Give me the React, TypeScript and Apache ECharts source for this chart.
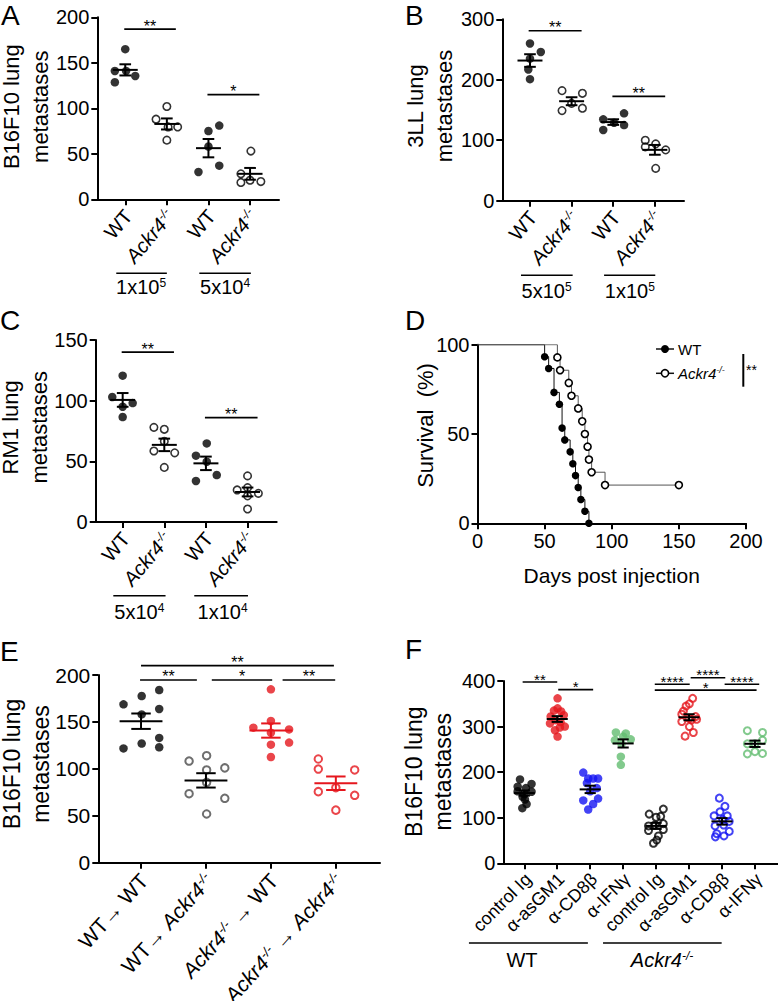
import React, { useEffect, useRef } from 'react';
import * as echarts from 'echarts';

const FONT = '"Liberation Sans", Arial, Helvetica, sans-serif';
const BLACK = '#000000';
const GREY = '#4a4a4a';
const RED = '#e5161d';
const BLUE = '#1414f2';
const GREEN = '#63bd70';

// ---------- Panel A ----------
const A_LABELS = ['WT', 'KO', 'WT', 'KO'];
const A_VALUES = [
  [165, 141, 141, 135.5, 128.6],
  [102, 88, 79.5, 79.5, 65],
  [75, 81, 58, 30, 37],
  [53, 28, 18.5, 21, 19.5],
];
const A_JITTER = [
  [0, -0.25, 0.02, 0.24, -0.25],
  [0, -0.26, 0.03, 0.26, 0],
  [0, 0.26, 0, -0.24, 0.26],
  [0.02, -0.22, -0.22, 0, 0.26],
];
const A_SIG = [[0.976, 2.216, 187, '**'], [2.976, 4.224, 115, '*']];
const A_DOSES = [[0.784, 2.0, 1.38, '1x10{p|5}'], [2.78, 4.02, 3.4, '5x10{p|4}']];

// ---------- Panel B ----------
const B_LABELS = ['WT', 'KO', 'WT', 'KO'];
const B_VALUES = [
  [260, 246, 235, 217, 201],
  [182, 177.6, 161, 153, 149],
  [134.6, 129, 144.5, 125, 117],
  [100, 89, 94, 84, 53.5],
];
const B_JITTER = [
  [0, 0.26, 0, -0.04, 0],
  [-0.23, 0.26, 0, 0.26, -0.23],
  [-0.24, 0.02, 0.26, 0.26, -0.24],
  [-0.23, -0.23, 0.02, 0.26, 0.02],
];
const B_SIG = [[0.968, 2.24, 281, '**'], [2.98, 4.248, 172.6, '**']];
const B_DOSES = [[0.784, 2.025, 1.4, '5x10{p|5}'], [2.78, 4.01, 3.4, '1x10{p|5}']];

// ---------- Panel C ----------
const C_LABELS = ['WT', 'KO', 'WT', 'KO'];
const C_VALUES = [
  [120.6, 103, 95, 98, 86.5],
  [78, 76.4, 66.5, 58.5, 57, 45],
  [64.8, 54.7, 49.7, 38.7, 33.8],
  [38, 26.4, 28.3, 23.6, 21.5, 10.7],
];
const C_JITTER = [
  [0, -0.25, 0, 0.24, 0],
  [-0.25, 0, 0, -0.25, 0.25, 0],
  [0.02, -0.24, 0.02, 0.26, -0.24],
  [0, -0.25, 0, 0.26, 0, 0],
];
const C_SIG = [[0.976, 2.232, 140, '**'], [2.976, 4.24, 86, '**']];
const C_DOSES = [[0.775, 2.03, 1.4, '5x10{p|4}'], [2.72, 4.01, 3.4, '1x10{p|4}']];

// ---------- Panel D (survival) ----------
const D_WT = [
  [0, 100], [50, 93.3], [53, 86.7], [57, 73.3], [61, 66.7], [63, 53.3], [65, 46.7],
  [69, 40], [71, 33.3], [73, 26.7], [75, 20], [77, 13.3], [80, 6.7], [83, 0],
];
const D_KO = [
  [0, 100], [59.5, 92.9], [61.5, 85.7], [68, 78.6], [70, 71.4], [75, 64.3], [78, 57.1],
  [80, 50], [82, 42.9], [83, 35.7], [85, 28.6], [95, 21.4], [150, 21.4],
];

// ---------- Panel E ----------
const E_LABELS = ['WT→ WT', 'WT→ {i|Ackr4}{s|-/-}', '{i|Ackr4}{s|-/-} → WT', '{i|Ackr4}{s|-/-} → {i|Ackr4}{s|-/-}'];
const E_VALUES = [
  [168.7, 177.6, 184, 163.8, 158, 133, 121.8, 127, 123],
  [108.3, 114, 98.8, 101, 85.6, 73.5, 68.6, 51.9],
  [184.7, 151, 143.9, 142, 138.5, 128, 125.8, 112.6],
  [110.5, 99.8, 98.8, 80, 75.7, 71.8, 56],
];
const E_JITTER = [
  [-0.27, 0.01, 0.28, 0.28, 0.01, 0.28, -0.27, 0.01, 0.28],
  [-0.26, 0.01, 0.01, 0.29, 0.01, -0.26, 0.29, 0.01],
  [0, 0, -0.27, 0.28, 0, 0.28, 0, 0],
  [-0.27, -0.27, 0.29, 0, -0.27, 0.29, 0],
];
const E_SIG = [[1.0, 3.97, 210, '**'], [0.985, 1.86, 194.7, '**'], [2.09, 3.02, 194.7, '*'], [3.18, 3.99, 194.7, '**']];

// ---------- Panel F ----------
const F_LABELS = ['control Ig', 'α-asGM1', 'α-CD8β', 'α-IFNγ', 'control Ig', 'α-asGM1', 'α-CD8β', 'α-IFNγ'];
const F_VALUES = [
  [184, 174, 168, 165, 158, 157, 152, 146, 140, 130, 121],
  [362, 340, 335, 333, 322, 325, 314, 310, 307, 300, 292, 298, 278],
  [199, 186, 186, 186, 176, 165, 158, 142, 138, 130, 118],
  [287, 285, 270, 272, 278, 262, 234, 216],
  [119, 108, 101, 103, 82, 84, 87, 74, 72, 60, 51, 44],
  [362, 350, 345, 334, 327, 322, 318, 316, 311, 315, 300, 287, 279],
  [143, 125, 113, 104, 104, 96, 92, 82, 84, 70, 65, 60, 58],
  [291, 287, 270, 262, 262, 240, 245, 241],
];
const F_JITTER = [
  [-0.13, 0.22, -0.2, 0.05, -0.2, 0.22, 0.0, -0.05, 0.02, 0.07, -0.06],
  [0.01, 0.01, -0.1, 0.12, -0.2, 0.2, -0.05, 0.1, -0.22, 0.23, -0.07, 0.08, 0.01],
  [-0.21, -0.06, 0.09, 0.24, -0.1, 0.2, 0.0, 0.24, -0.21, 0.09, -0.06],
  [-0.22, 0.08, -0.25, 0.23, 0.0, -0.05, -0.07, -0.07],
  [0.22, -0.21, 0.0, 0.14, -0.23, -0.03, 0.22, 0.22, -0.23, 0.07, 0.02, -0.08],
  [0.11, 0.01, -0.09, -0.17, -0.22, 0.2, 0.0, 0.23, -0.22, 0.08, 0.01, 0.13, -0.12],
  [-0.08, 0.09, -0.06, -0.24, 0.16, 0.02, 0.22, -0.21, 0.05, 0.22, -0.16, 0.06, -0.2],
  [-0.23, 0.23, 0.23, -0.23, 0.0, -0.23, 0.0, 0.23],
];
const F_SIG = [
  [0.95, 2.0, 397.8, '**'], [2.03, 3.09, 381, '*'],
  [4.96, 6.02, 393, '****'], [6.05, 7.1, 407, '****'], [7.08, 8.13, 393, '****'], [4.96, 8.05, 380, '*'],
];
const F_GROUPS = [[-0.68, 2.93, 0.93, 'WT'], [3.39, 6.99, 5.18, '{i|Ackr4}{s|-/-}']];

const richFor = (fs: number) => ({
  i: { fontStyle: 'italic', fontSize: fs, fontFamily: FONT, fill: BLACK, color: BLACK },
  s: { fontStyle: 'italic', fontSize: Math.round(fs * 0.6), fontFamily: FONT, fill: BLACK, color: BLACK, verticalAlign: 'top' },
  p: { fontSize: Math.round(fs * 0.62), fontFamily: FONT, fill: BLACK, color: BLACK, verticalAlign: 'top' },
});

const genoLabel = (k: string) => (k === 'KO' ? '{i|Ackr4}{s|-/-}' : 'WT');

const axisLineStyle = { color: BLACK, width: 2 };

function catXAxis(g: number, min: number, max: number, n: number) {
  const vals = Array.from({ length: n }, (_, i) => i + 1);
  return {
    type: 'value', gridIndex: g, min, max,
    axisLine: { show: true, lineStyle: axisLineStyle },
    axisTick: { show: true, customValues: vals, length: 6, lineStyle: axisLineStyle },
    axisLabel: { show: false },
    splitLine: { show: false },
  };
}

function valYAxis(g: number, max: number, interval: number, fs: number) {
  return {
    type: 'value', gridIndex: g, min: 0, max, interval,
    axisLine: { show: true, lineStyle: axisLineStyle },
    axisTick: { show: true, length: 6, lineStyle: axisLineStyle },
    axisLabel: { fontSize: fs, fontFamily: FONT, color: BLACK, margin: 8 },
    splitLine: { show: false },
  };
}

type Sty = { open: boolean; color: string };

function dotSeries(g: number, values: number[][], jitter: number[][], styles: Sty[], fill: number, open: number, bw: number) {
  return values.map((vals, gi) => ({
    type: 'scatter', xAxisIndex: g, yAxisIndex: g, z: 2, silent: true,
    symbol: 'circle', symbolSize: styles[gi].open ? open : fill,
    itemStyle: styles[gi].open
      ? { color: 'rgba(255,255,255,0)', borderColor: styles[gi].color, borderWidth: bw }
      : { color: styles[gi].color },
    data: vals.map((v, k) => [gi + 1 + jitter[gi][k], v]),
  }));
}

function meanSeries(g: number, values: number[][], colors: string[], hw: number, cw: number) {
  const data = values.map((v, i) => {
    const n = v.length;
    const m = v.reduce((a, b) => a + b, 0) / n;
    const sd = Math.sqrt(v.reduce((a, b) => a + (b - m) * (b - m), 0) / (n - 1));
    return [i + 1, m, sd / Math.sqrt(n)];
  });
  return {
    type: 'custom', xAxisIndex: g, yAxisIndex: g, z: 4, silent: true, data,
    renderItem: (params: any, api: any) => {
      const x = api.value(0), m = api.value(1), s = api.value(2);
      const c = colors[params.dataIndex];
      const st = { stroke: c, lineWidth: 2 };
      const L = api.coord([x - hw, m]), R = api.coord([x + hw, m]);
      const T = api.coord([x, m + s]), B = api.coord([x, m - s]);
      const TL = api.coord([x - cw, m + s]), TR = api.coord([x + cw, m + s]);
      const BL = api.coord([x - cw, m - s]), BR = api.coord([x + cw, m - s]);
      return {
        type: 'group', children: [
          { type: 'line', shape: { x1: L[0], y1: L[1], x2: R[0], y2: R[1] }, style: st },
          { type: 'line', shape: { x1: T[0], y1: T[1], x2: B[0], y2: B[1] }, style: st },
          { type: 'line', shape: { x1: TL[0], y1: TL[1], x2: TR[0], y2: TR[1] }, style: st },
          { type: 'line', shape: { x1: BL[0], y1: BL[1], x2: BR[0], y2: BR[1] }, style: st },
        ],
      };
    },
  };
}

function sigSeries(g: number, sig: any[], fs: number) {
  return {
    type: 'custom', xAxisIndex: g, yAxisIndex: g, z: 4, silent: true,
    data: sig.map((s) => [s[0], s[2], s[1]]),
    renderItem: (params: any, api: any) => {
      const y = api.value(1);
      const a = api.coord([api.value(0), y]);
      const b = api.coord([api.value(2), y]);
      const t = sig[params.dataIndex][3];
      return {
        type: 'group', children: [
          { type: 'line', shape: { x1: a[0], y1: a[1], x2: b[0], y2: b[1] }, style: { stroke: BLACK, lineWidth: 1.6 } },
          { type: 'text', x: (a[0] + b[0]) / 2, y: a[1] - 3, style: { text: t, textAlign: 'center', textVerticalAlign: 'middle', fontSize: fs, fontFamily: FONT, fill: BLACK } },
        ],
      };
    },
  };
}

// rotated category labels placed at each tick through the axis scale
function xLabelSeries(g: number, labels: string[], fs: number, rotDeg: number, dx: number, dy: number) {
  return {
    type: 'custom', xAxisIndex: g, yAxisIndex: g, z: 4, silent: true,
    data: labels.map((_, i) => [i + 1, 0]),
    renderItem: (params: any, api: any) => {
      const p = api.coord([api.value(0), 0]);
      return {
        type: 'text', x: p[0] + dx, y: p[1] + dy, rotation: (rotDeg * Math.PI) / 180,
        style: {
          text: labels[params.dataIndex], textAlign: 'right', textVerticalAlign: 'middle',
          fontSize: fs, fontFamily: FONT, fill: BLACK, rich: richFor(fs),
        },
      };
    },
  };
}

function groupSeries(g: number, items: any[], lineOff: number, textOff: number, fs: number) {
  return {
    type: 'custom', xAxisIndex: g, yAxisIndex: g, z: 4, silent: true,
    data: items.map((it) => [it[0], 0, it[1], it[2]]),
    renderItem: (params: any, api: any) => {
      const a = api.coord([api.value(0), 0]);
      const b = api.coord([api.value(2), 0]);
      const t = api.coord([api.value(3), 0]);
      const label = items[params.dataIndex][3];
      return {
        type: 'group', children: [
          { type: 'line', shape: { x1: a[0], y1: a[1] + lineOff, x2: b[0], y2: b[1] + lineOff }, style: { stroke: BLACK, lineWidth: 1.6 } },
          {
            type: 'text', x: t[0], y: t[1] + textOff,
            style: { text: label, textAlign: 'center', textVerticalAlign: 'middle', fontSize: fs, fontFamily: FONT, fill: BLACK, rich: richFor(fs) },
          },
        ],
      };
    },
  };
}

function letter(t: string, x: number, y: number) {
  return { type: 'text', x, y, style: { text: t, font: `28px ${FONT}`, textAlign: 'left', textVerticalAlign: 'middle', fill: BLACK } };
}
function yTitle(t: string, x: number, y: number, fs: number, lh: number) {
  return {
    type: 'text', x, y, rotation: Math.PI / 2,
    style: { text: t, font: `${fs}px ${FONT}`, lineHeight: lh, textAlign: 'center', textVerticalAlign: 'middle', fill: BLACK },
  };
}
function plainText(t: string, x: number, y: number, fs: number, align: string) {
  return { type: 'text', x, y, style: { text: t, fontSize: fs, fontFamily: FONT, textAlign: align, textVerticalAlign: 'middle', fill: BLACK, rich: richFor(fs) } };
}

function buildOption() {
  const bw = (c: string): Sty => ({ open: false, color: c });
  const ow = (c: string): Sty => ({ open: true, color: c });
  const std4 = [bw(BLACK), ow(BLACK), bw(BLACK), ow(BLACK)];

  const grids = [
    { left: 97.3, top: 17.3, width: 181.7, height: 182 },
    { left: 502.3, top: 19.3, width: 181.7, height: 181.4 },
    { left: 95.7, top: 340, width: 181, height: 182 },
    { left: 477.5, top: 344.7, width: 268.5, height: 178.6 },
    { left: 98.3, top: 675, width: 281.7, height: 187.7 },
    { left: 503.3, top: 681, width: 274.7, height: 182.3 },
  ].map((g) => ({ ...g, containLabel: false, outerBoundsMode: 'none' }));

  const xAxis: any[] = [
    catXAxis(0, 0.328, 4.696, 4),
    catXAxis(1, 0.335, 4.7, 4),
    catXAxis(2, 0.352, 4.7, 4),
    {
      type: 'value', gridIndex: 3, min: 0, max: 200, interval: 50,
      axisLine: { show: true, lineStyle: axisLineStyle },
      axisTick: { show: true, length: 6, lineStyle: axisLineStyle },
      axisLabel: { fontSize: 20, fontFamily: FONT, color: BLACK, margin: 8 },
      splitLine: { show: false },
    },
    catXAxis(4, 0.342, 4.68, 4),
    catXAxis(5, 0.363, 8.7, 8),
  ];
  const yAxis: any[] = [
    valYAxis(0, 200, 50, 20),
    valYAxis(1, 300, 100, 20),
    valYAxis(2, 150, 50, 20),
    valYAxis(3, 100, 50, 20),
    valYAxis(4, 200, 50, 21),
    valYAxis(5, 400, 100, 20),
  ];

  const blk4 = [BLACK, BLACK, BLACK, BLACK];
  const series: any[] = [
    ...dotSeries(0, A_VALUES, A_JITTER, std4, 8.5, 7.5, 1.6),
    meanSeries(0, A_VALUES, blk4, 0.3, 0.14),
    sigSeries(0, A_SIG, 16),
    xLabelSeries(0, A_LABELS.map(genoLabel), 20, 50, 3, 13),
    groupSeries(0, A_DOSES, 74, 88, 20),

    ...dotSeries(1, B_VALUES, B_JITTER, std4, 8.5, 7.5, 1.6),
    meanSeries(1, B_VALUES, blk4, 0.3, 0.14),
    sigSeries(1, B_SIG, 16),
    xLabelSeries(1, B_LABELS.map(genoLabel), 20, 50, 3, 13),
    groupSeries(1, B_DOSES, 74.6, 90, 20),

    ...dotSeries(2, C_VALUES, C_JITTER, std4, 8.5, 7.5, 1.6),
    meanSeries(2, C_VALUES, blk4, 0.3, 0.14),
    sigSeries(2, C_SIG, 16),
    xLabelSeries(2, C_LABELS.map(genoLabel), 20, 50, 3, 13),
    groupSeries(2, C_DOSES, 73.7, 89.7, 20),

    {
      name: 'WT', type: 'line', xAxisIndex: 3, yAxisIndex: 3, step: 'end', z: 3,
      symbol: 'circle', symbolSize: 7.5, showAllSymbol: true,
      lineStyle: { color: '#111', width: 1 },
      itemStyle: { color: BLACK },
      data: D_WT.map((p, i) => (i === 0 ? { value: p, symbol: 'none' } : { value: p })),
    },
    {
      name: 'Ackr4', type: 'line', xAxisIndex: 3, yAxisIndex: 3, step: 'end', z: 4,
      symbol: 'circle', symbolSize: 7, showAllSymbol: true,
      lineStyle: { color: '#555', width: 1 },
      itemStyle: { color: '#ffffff', borderColor: BLACK, borderWidth: 1.6 },
      data: D_KO.map((p, i) => (i === 0 ? { value: p, symbol: 'none' } : { value: p })),
    },

    ...dotSeries(4, E_VALUES, E_JITTER, [bw(BLACK), ow(GREY), bw(RED), ow(RED)], 8.5, 7.5, 2),
    meanSeries(4, E_VALUES, [BLACK, BLACK, RED, RED], 0.33, 0.15),
    sigSeries(4, E_SIG, 16),
    xLabelSeries(4, E_LABELS, 21, 48, 3, 14),

    ...dotSeries(5, F_VALUES, F_JITTER,
      [bw(BLACK), bw(RED), bw(BLUE), bw(GREEN), ow(BLACK), ow(RED), ow(BLUE), ow(GREEN)], 8.5, 7, 2),
    meanSeries(5, F_VALUES, new Array(8).fill(BLACK), 0.32, 0.17),
    sigSeries(5, F_SIG, 15),
    xLabelSeries(5, F_LABELS, 18, 45, 4, 13),
    groupSeries(5, F_GROUPS, 79.7, 97, 20),
  ];

  const graphic: any[] = [
    letter('A', 1, 15),
    letter('B', 405, 15.5),
    letter('C', 0, 320),
    letter('D', 405, 320.7),
    letter('E', 0, 651),
    letter('F', 405, 649),
    yTitle('B16F10 lung\nmetastases', 26, 106.7, 22, 29),
    yTitle('3LL lung\nmetastases', 430, 106, 22, 29),
    yTitle('RM1 lung\nmetastases', 25, 427.3, 22, 29),
    yTitle('Survival  (%)', 425, 425.5, 22, 28),
    yTitle('B16F10 lung\nmetastases', 26.5, 764, 23, 29),
    yTitle('B16F10 lung\nmetastases', 428, 771.7, 23, 29),
    { type: 'text', x: 611.7, y: 575.7, style: { text: 'Days post injection', font: `21px ${FONT}`, textAlign: 'center', textVerticalAlign: 'middle', fill: BLACK } },
    // legend of panel D
    { type: 'line', shape: { x1: 656, y1: 349, x2: 674, y2: 349 }, style: { stroke: '#111', lineWidth: 1.5 } },
    { type: 'circle', shape: { cx: 665, cy: 349, r: 4 }, style: { fill: BLACK } },
    { type: 'line', shape: { x1: 656, y1: 373.3, x2: 674, y2: 373.3 }, style: { stroke: '#111', lineWidth: 1.5 } },
    { type: 'circle', shape: { cx: 665, cy: 373.3, r: 3.6 }, style: { fill: '#fff', stroke: BLACK, lineWidth: 1.6 } },
    plainText('WT', 678, 349, 15, 'left'),
    plainText('{i|Ackr4}{s|-/-}', 678, 373.3, 15, 'left'),
    { type: 'line', shape: { x1: 743.3, y1: 354, x2: 743.3, y2: 386.7 }, style: { stroke: BLACK, lineWidth: 2 } },
    { type: 'text', x: 746, y: 370, style: { text: '**', font: `14px ${FONT}`, textAlign: 'left', textVerticalAlign: 'middle', fill: BLACK } },
  ];

  return {
    animation: false,
    backgroundColor: '#ffffff',
    textStyle: { fontFamily: FONT },
    grid: grids,
    xAxis,
    yAxis,
    series,
    graphic,
  };
}

export default function App() {
  const ref = useRef<HTMLDivElement>(null);
  useEffect(() => {
    if (!ref.current) return;
    const chart = echarts.init(ref.current, undefined, { renderer: 'svg' });
    chart.setOption(buildOption() as any);
    return () => chart.dispose();
  }, []);
  return <div ref={ref} style={{ position: 'absolute', left: 0, top: 0, width: 778, height: 1001, background: '#fff' }} />;
}
